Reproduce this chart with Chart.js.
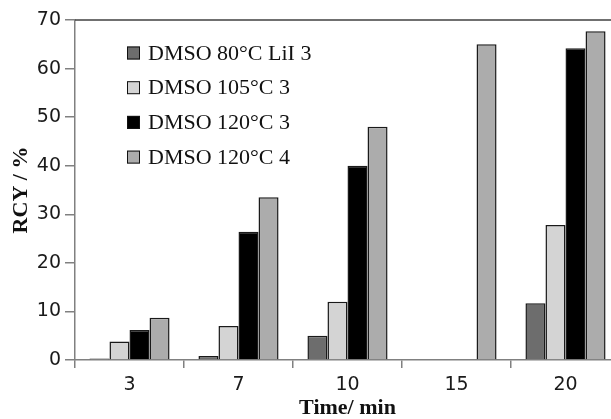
<!DOCTYPE html>
<html>
<head>
<meta charset="utf-8">
<script src="https://cdn.jsdelivr.net/npm/chart.js@4"></script>
<style>
  html, body { margin: 0; padding: 0; background: #fff; overflow: hidden; }
  #wrap { width: 640px; height: 419px; }
</style>
</head>
<body>
<div id="wrap"><canvas id="rcyChart" width="640" height="419"></canvas></div>
<script>
// Reaction data
const times = ['3', '7', '10', '15', '20'];
const seriesNames = ['DMSO 80°C LiI 3', 'DMSO 105°C 3', 'DMSO 120°C 3', 'DMSO 120°C 4'];
const lii80 = [0.3, 0.8, 5.0, null, 11.7];
const dmso105 = [3.8, 7.0, 12.0, null, 27.8];
const dmso120_3 = [6.2, 26.4, 40.0, null, 64.2];
const dmso120_4 = [8.7, 33.5, 48.0, 65.0, 67.7];
const yTicks = [0, 10, 20, 30, 40, 50, 60, 70];

const fills = ['#6d6d6d', '#d4d4d4', '#000000', '#acacac'];
const allSeries = [lii80, dmso105, dmso120_3, dmso120_4];

// legend inside the plot, top-left
const insideLegend = {
    id: 'insideLegend',
    afterDraw(chart) {
        const ctx = chart.ctx;
        ctx.save();
        ctx.font = '22px "Liberation Serif", serif';
        ctx.textBaseline = 'middle';
        chart.data.datasets.forEach((ds, i) => {
            const y = 53 + i * 34.7;
            ctx.fillStyle = ds.backgroundColor;
            ctx.fillRect(127, y - 6.5, 13, 13);
            ctx.strokeStyle = '#111';
            ctx.lineWidth = 1;
            ctx.strokeRect(127.5, y - 6, 12, 12);
            ctx.fillStyle = '#111';
            ctx.fillText(ds.label, 148, y + 1);
        });
        ctx.restore();
    }
};

// top frame line
const frameTop = {
    id: 'frameTop',
    beforeDatasetsDraw(chart) {
        const {ctx, chartArea} = chart;
        ctx.save();
        ctx.strokeStyle = '#404040';
        ctx.lineWidth = 1.5;
        ctx.beginPath();
        ctx.moveTo(chartArea.left, chartArea.top);
        ctx.lineTo(chartArea.right, chartArea.top);
        ctx.stroke();
        ctx.restore();
    }
};

const ctx = document.getElementById('rcyChart').getContext('2d');
new Chart(ctx, {
    type: 'bar',
    data: {
        labels: times,
        datasets: allSeries.map((values, i) => ({
            label: seriesNames[i],
            data: values,
            backgroundColor: fills[i],
            borderColor: '#1a1a1a',
            borderWidth: 1.5,
            categoryPercentage: 0.735,
            barPercentage: 1.0
        }))
    },
    options: {
        responsive: false,
        animation: false,
        layout: { padding: { top: 20, right: 20, left: 0, bottom: 0 } },
        plugins: {
            legend: { display: false },
            tooltip: { enabled: false }
        },
        scales: {
            x: {
                offset: true,
                grid: {
                    offset: true,
                    drawOnChartArea: false,
                    drawTicks: true,
                    tickLength: 8,
                    color: '#808080',
                    lineWidth: 1.5
                },
                border: { color: '#808080', width: 1.5 },
                ticks: {
                    color: '#1a1a1a',
                    padding: 6,
                    font: { family: 'DejaVu Sans', size: 19 }
                },
                title: {
                    display: true,
                    text: 'Time/ min',
                    color: '#111',
                    padding: { top: 0, bottom: 0 },
                    font: { family: 'Liberation Serif', size: 22, weight: 'bold', lineHeight: 1.0 }
                },
                afterFit(axis) { axis.height = 59; }
            },
            y: {
                min: 0,
                max: 70,
                afterBuildTicks(axis) { axis.ticks = yTicks.map(v => ({ value: v })); },
                grid: {
                    drawOnChartArea: false,
                    drawTicks: true,
                    tickLength: 10,
                    color: '#808080',
                    lineWidth: 1.5
                },
                border: { color: '#808080', width: 1.5 },
                ticks: {
                    color: '#1a1a1a',
                    padding: 4,
                    font: { family: 'DejaVu Sans', size: 19 }
                },
                title: {
                    display: true,
                    text: 'RCY / %',
                    color: '#111',
                    padding: { top: 8, bottom: 0 },
                    font: { family: 'Liberation Serif', size: 22, weight: 'bold', lineHeight: 1.2 }
                },
                afterFit(axis) { axis.width = 75; }
            }
        }
    },
    plugins: [frameTop, insideLegend]
});
</script>
</body>
</html>
